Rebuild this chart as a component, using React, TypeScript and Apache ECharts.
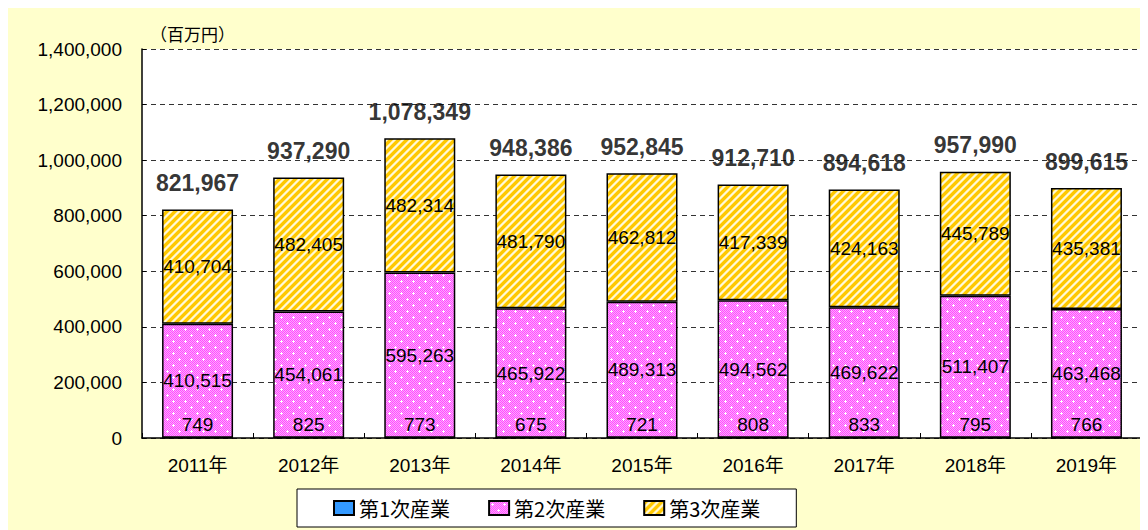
import React, { useEffect, useRef } from "react";
import * as echarts from "echarts";

const categories = ["2011年", "2012年", "2013年", "2014年", "2015年", "2016年", "2017年", "2018年", "2019年"];
const primary = [749, 825, 773, 675, 721, 808, 833, 795, 766];
const secondary = [410515, 454061, 595263, 465922, 489313, 494562, 469622, 511407, 463468];
const tertiary = [410704, 482405, 482314, 481790, 462812, 417339, 424163, 445789, 435381];
const totals = [821967, 937290, 1078349, 948386, 952845, 912710, 894618, 957990, 899615];
const seriesNames = ["第1次産業", "第2次産業", "第3次産業"];
const unitLabel = "（百万円）";

const NUM_FONT = "'Liberation Sans', Arial, 'Noto Sans CJK JP', sans-serif";

function makePink(): HTMLCanvasElement {
  const c = document.createElement("canvas");
  c.width = 12;
  c.height = 12;
  const ctx = c.getContext("2d")!;
  for (let y = 0; y < 12; y++) {
    for (let x = 0; x < 12; x++) {
      ctx.fillStyle = (x + y) % 2 === 0 ? "#FF4DFF" : "#FFA6FF";
      ctx.fillRect(x, y, 1, 1);
    }
  }
  ctx.fillStyle = "#FFFFFF";
  const plus = (px: number, py: number) => {
    ctx.fillRect(px - 1, py, 3, 1);
    ctx.fillRect(px, py - 1, 1, 3);
  };
  plus(3, 3);
  plus(9, 9);
  return c;
}

function makeYellow(): HTMLCanvasElement {
  const c = document.createElement("canvas");
  c.width = 8;
  c.height = 8;
  const ctx = c.getContext("2d")!;
  for (let y = 0; y < 8; y++) {
    for (let x = 0; x < 8; x++) {
      const d = (x + y) % 8;
      ctx.fillStyle = d < 4 ? "#FFC800" : d === 4 || d === 7 ? "#FFE680" : "#FFF8D8";
      ctx.fillRect(x, y, 1, 1);
    }
  }
  return c;
}

export default function App() {
  const ref = useRef<HTMLDivElement>(null);
  useEffect(() => {
    if (!ref.current) return;
    const chart = echarts.init(ref.current, undefined, { renderer: "svg" });
    const pink = makePink();
    const yellow = makeYellow();
    const pinkPattern: any = { image: pink, repeat: "repeat", imageWidth: 12, imageHeight: 12 };
    const yellowPattern: any = { image: yellow, repeat: "repeat", imageWidth: 8, imageHeight: 8 };

    const innerLabel = {
      show: true,
      position: "inside",
      color: "#000",
      fontSize: 19,
      fontFamily: NUM_FONT,
      formatter: (p: any) => Number(p.value).toLocaleString("en-US"),
    };

    chart.setOption({
      animation: false,
      backgroundColor: "#FFFFCC",
      title: {
        text: unitLabel,
        left: 137,
        top: 12,
        textStyle: { fontSize: 17, fontWeight: "normal", color: "#000", fontFamily: "'Noto Sans CJK JP', sans-serif" },
      },
      legend: {
        data: seriesNames,
        left: 289,
        top: 481,
        padding: [9, 36],
        itemGap: 38,
        itemWidth: 20,
        itemHeight: 14,
        icon: "rect",
        backgroundColor: "#FFFFFF",
        borderColor: "#000",
        borderWidth: 1,
        textStyle: { fontSize: 20, color: "#000", fontFamily: "'Noto Sans CJK JP', sans-serif" },
      },
      grid: {
        left: 134,
        top: 41,
        right: 6,
        bottom: 92,
        show: true,
        backgroundColor: "#FFFFFF",
        borderWidth: 0,
      },
      xAxis: {
        type: "category",
        data: categories,
        axisLine: { show: true, lineStyle: { color: "#000", width: 1.5 } },
        axisTick: { show: true, inside: true, length: 5, lineStyle: { color: "#000" } },
        axisLabel: { color: "#000", fontSize: 19, margin: 18, fontFamily: NUM_FONT },
      },
      yAxis: [
        {
          type: "value",
          min: 0,
          max: 1400000,
          interval: 200000,
          axisLine: { show: true, lineStyle: { color: "#000", width: 1.5 } },
          axisTick: { show: true, inside: true, length: 4, lineStyle: { color: "#000" } },
          axisLabel: {
            color: "#000",
            fontSize: 19,
            margin: 20,
            fontFamily: NUM_FONT,
            formatter: (v: number) => v.toLocaleString("en-US"),
          },
          splitLine: { show: true, lineStyle: { color: "#333", type: [5, 4], width: 1 } },
        },
        {
          type: "value",
          position: "right",
          min: 0,
          max: 1400000,
          interval: 200000,
          axisLine: { show: true, lineStyle: { color: "#000", width: 1.5 } },
          axisTick: { show: false },
          axisLabel: { show: false },
          splitLine: { show: false },
        },
      ],
      series: [
        {
          name: seriesNames[0],
          type: "bar",
          stack: "total",
          barWidth: 71,
          data: primary,
          itemStyle: { color: "#3399FF", borderColor: "#000", borderWidth: 1 },
          label: { ...innerLabel, position: "top", distance: 3 },
        },
        {
          name: seriesNames[1],
          type: "bar",
          stack: "total",
          barWidth: 71,
          data: secondary,
          itemStyle: { color: pinkPattern, borderColor: "#000", borderWidth: 1.5 },
          label: innerLabel,
        },
        {
          name: seriesNames[2],
          type: "bar",
          stack: "total",
          barWidth: 71,
          data: tertiary,
          itemStyle: { color: yellowPattern, borderColor: "#000", borderWidth: 1.5 },
          label: innerLabel,
        },
        {
          name: "合計",
          type: "scatter",
          data: totals,
          symbolSize: 0,
          silent: true,
          z: 10,
          label: {
            show: true,
            position: "top",
            distance: 15,
            color: "#000",
            fontSize: 23,
            fontWeight: "bold",
            fontFamily: NUM_FONT,
            formatter: (p: any) => Number(p.value).toLocaleString("en-US"),
          },
        },
      ],
    });
    return () => chart.dispose();
  }, []);
  return <div ref={ref} style={{ width: 1140, height: 522 }} />;
}
